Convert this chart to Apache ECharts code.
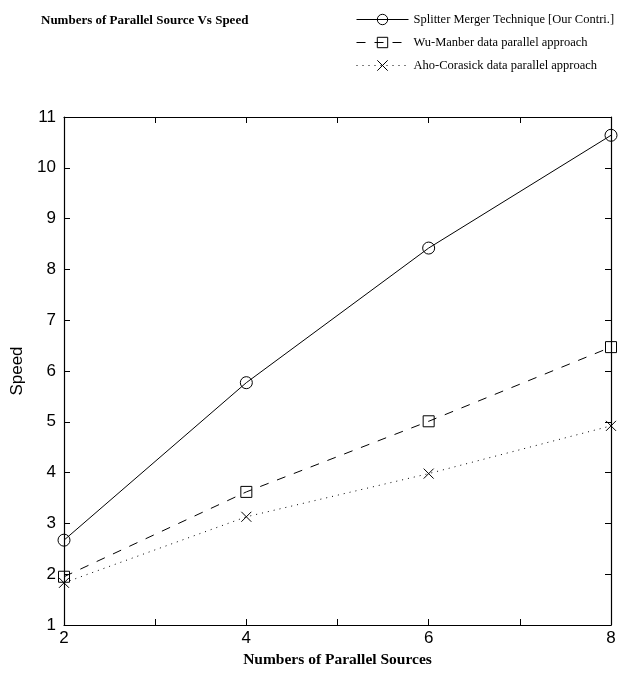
<!DOCTYPE html>
<html>
<head>
<meta charset="utf-8">
<script src="https://cdn.jsdelivr.net/npm/echarts@6/dist/echarts.min.js"></script>
<style>html,body{margin:0;padding:0;background:#fff;}#chart{width:633px;height:673px;}</style>
</head>
<body>
<div id="chart"></div>
<script>
const xValues = [2, 4, 6, 8];
const splitterMerger = [2.67, 5.77, 8.42, 10.64];
const wuManber = [1.95, 3.62, 5.01, 6.47];
const ahoCorasick = [1.83, 3.13, 3.98, 4.92];
const seriesNames = [
  'Splitter Merger Technique [Our Contri.]',
  'Wu-Manber data parallel approach',
  'Aho-Corasick data parallel approach'
];
const evenTickLabels = ['2', '4', '6', '8'];

const pair = (arr) => xValues.map((x, i) => [x, arr[i]]);
const chart = echarts.init(document.getElementById('chart'), null, {renderer: 'canvas'});
const sans = 'Liberation Sans';
const serif = 'Liberation Serif';

const commonHiddenAxis = {
  axisLine: {show: true, lineStyle: {color: '#000', width: 1.2}},
  axisTick: {show: true, inside: true, length: 6, lineStyle: {color: '#000'}},
  axisLabel: {show: false},
  splitLine: {show: false}
};

chart.setOption({
  animation: false,
  backgroundColor: '#fff',
  title: {
    text: 'Numbers of Parallel Source Vs Speed',
    left: 36, top: 9,
    textStyle: {fontFamily: serif, fontWeight: 'bold', fontSize: 13, color: '#000'}
  },
  legend: {
    orient: 'vertical',
    left: 351, top: 8,
    itemWidth: 52, itemHeight: 13, itemGap: 10,
    textStyle: {fontFamily: serif, fontSize: 12.5, color: '#000'},
    lineStyle: {width: 1},
    itemStyle: {borderWidth: 1},
    data: seriesNames
  },
  grid: {left: 64, right: 22, top: 117, bottom: 46, containLabel: false},
  xAxis: [{
    type: 'value', min: 2, max: 8, interval: 1,
    name: 'Numbers of Parallel Sources', nameLocation: 'middle', nameGap: 27,
    nameTextStyle: {fontFamily: serif, fontWeight: 'bold', fontSize: 15.5, color: '#000'},
    axisLine: {show: true, onZero: false, lineStyle: {color: '#000', width: 1.2}},
    axisTick: {show: true, inside: true, length: 6, lineStyle: {color: '#000'}},
    axisLabel: {
      fontFamily: sans, fontSize: 17, color: '#000', margin: 5,
      formatter: (v) => evenTickLabels.includes(String(v)) ? String(v) : ''
    },
    splitLine: {show: false}
  }, Object.assign({type: 'value', position: 'top', min: 2, max: 8, interval: 1}, commonHiddenAxis)],
  yAxis: [{
    type: 'value', min: 1, max: 11, interval: 1,
    name: 'Speed', nameLocation: 'middle', nameGap: 32, nameRotate: 90,
    nameTextStyle: {fontFamily: sans, fontSize: 17, color: '#000'},
    axisLine: {show: true, onZero: false, lineStyle: {color: '#000', width: 1.2}},
    axisTick: {show: true, inside: true, length: 6, lineStyle: {color: '#000'}},
    axisLabel: {fontFamily: sans, fontSize: 17, color: '#000', margin: 8},
    splitLine: {show: false}
  }, Object.assign({type: 'value', position: 'right', min: 1, max: 11, interval: 1}, commonHiddenAxis)],
  series: [
    {
      name: seriesNames[0], type: 'line', data: pair(splitterMerger),
      symbol: 'circle', symbolSize: 12,
      lineStyle: {color: '#000', width: 1, type: 'solid'},
      itemStyle: {color: 'rgba(255,255,255,0)', borderColor: '#000', borderWidth: 1}
    },
    {
      name: seriesNames[1], type: 'line', data: pair(wuManber),
      symbol: 'rect', symbolSize: 11,
      lineStyle: {color: '#000', width: 1, type: [9, 9]},
      itemStyle: {color: 'rgba(255,255,255,0)', borderColor: '#000', borderWidth: 1}
    },
    {
      name: seriesNames[2], type: 'line', data: pair(ahoCorasick),
      symbol: 'path://M0,0L10,10M10,0L0,10', symbolSize: 10,
      lineStyle: {color: '#000', width: 1, type: [1, 5]},
      itemStyle: {color: 'rgba(255,255,255,0)', borderColor: '#000', borderWidth: 1}
    }
  ]
});
</script>
</body>
</html>
